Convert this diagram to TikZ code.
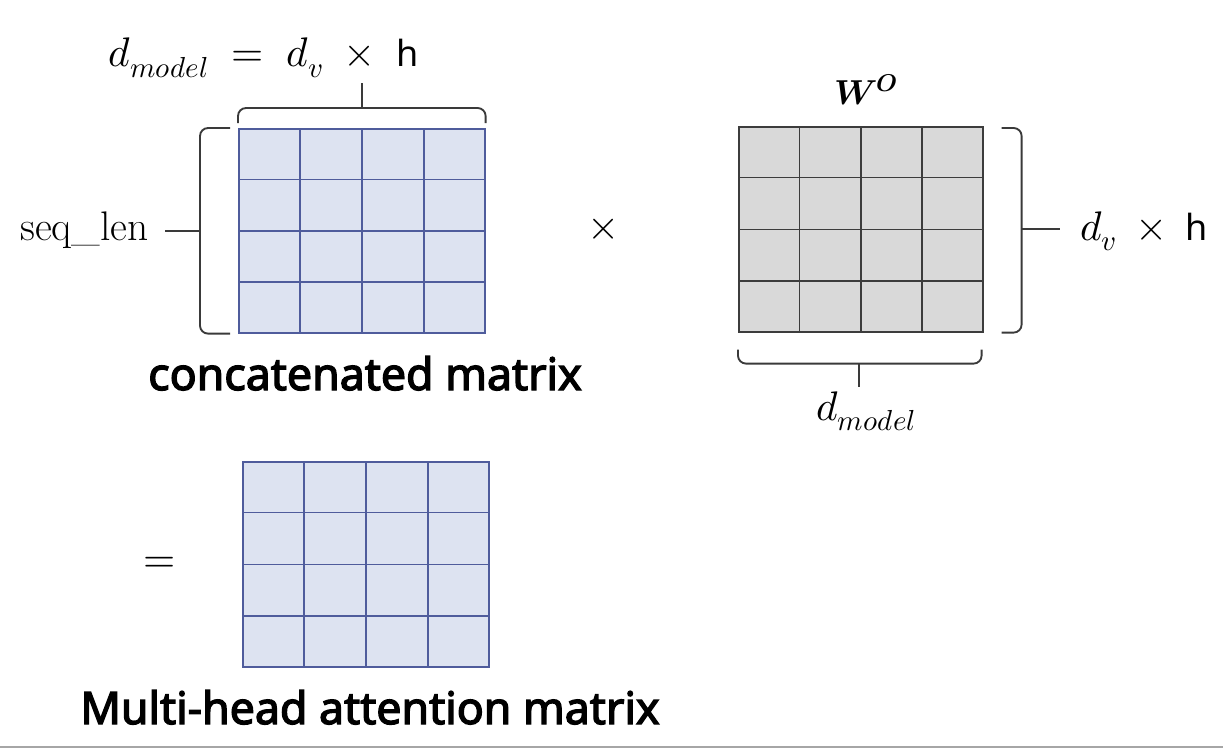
\documentclass[tikz,border=0pt]{standalone}
\usepackage{fontspec}
\usepackage{unicode-math}
\setmathfont{Latin Modern Math}
\usetikzlibrary{calc}
\newfontfamily\lblfont{Noto Sans}
\newfontfamily\boldfont{Noto Sans}[AutoFakeBold=3]
\definecolor{bluefill}{HTML}{DDE3F1}
\definecolor{blueline}{HTML}{4F5C9C}
\definecolor{grayfill}{HTML}{D9D9D9}
\definecolor{grayline}{HTML}{3C3C3C}
\definecolor{bracecol}{HTML}{3A3A3A}
\tikzset{
  bluemat/.style={draw=blueline, fill=bluefill, line width=1.2pt, anchor=north west, inner sep=0pt},
  graymat/.style={draw=grayline, fill=grayfill, line width=1.2pt, anchor=north west, inner sep=0pt},
  bluegrid/.style={draw=blueline, line width=1.2pt},
  graygrid/.style={draw=grayline, line width=1.2pt},
  bracepath/.style={draw=bracecol, line width=1.4pt, rounded corners=6pt},
  ticklink/.style={draw=bracecol, line width=1.4pt},
  mathlbl/.style={inner sep=0pt, font=\fontsize{31}{37}\selectfont},
  boldlbl/.style={inner sep=0pt, font=\boldfont\bfseries\fontsize{33.5}{40}\selectfont},
}
\newcommand{\sansh}{\text{\lblfont\fontsize{27}{32}\selectfont h}}
\begin{document}
\begin{tikzpicture}[x=0.75pt,y=-0.75pt]
\useasboundingbox (0,0) rectangle (1223,749);
% matrices
\node[bluemat, minimum width=184.5pt, minimum height=153pt] (cm) at (238,128) {};
\node[graymat, minimum width=183pt, minimum height=153.75pt] (wo) at (738,126) {};
\node[bluemat, minimum width=184.5pt, minimum height=153.75pt] (mh) at (242,461) {};
\foreach \i in {1,2,3}{
  \draw[bluegrid] ($(cm.north west)!\i/4!(cm.north east)$) -- ($(cm.south west)!\i/4!(cm.south east)$);
  \draw[bluegrid] ($(cm.north west)!\i/4!(cm.south west)$) -- ($(cm.north east)!\i/4!(cm.south east)$);
  \draw[graygrid] ($(wo.north west)!\i/4!(wo.north east)$) -- ($(wo.south west)!\i/4!(wo.south east)$);
  \draw[graygrid] ($(wo.north west)!\i/4!(wo.south west)$) -- ($(wo.north east)!\i/4!(wo.south east)$);
  \draw[bluegrid] ($(mh.north west)!\i/4!(mh.north east)$) -- ($(mh.south west)!\i/4!(mh.south east)$);
  \draw[bluegrid] ($(mh.north west)!\i/4!(mh.south west)$) -- ($(mh.north east)!\i/4!(mh.south east)$);
}
% labels
\node[mathlbl, anchor=base] (top) at (264,67) {$d_{model} \;=\; d_v \;\times\; \sansh$};
\node[mathlbl, anchor=base, font=\fontsize{26}{31}\selectfont] (wlab) at (866,104) {$\symbfit{W}^{\symbfit{O}}$};
\node[mathlbl, anchor=base east] (seq) at (149,240) {seq\_len};
\node[mathlbl] (times) at (604,229) {$\times$};
\node[mathlbl, anchor=base west] (dvh) at (1080,240) {$d_v \:\times\: \sansh$};
\node[mathlbl, anchor=base] (dm) at (866,420) {$d_{model}$};
\node[boldlbl, anchor=base] (cml) at (365,390) {concatenated matrix};
\node[mathlbl] (eq) at (160,565) {$=$};
\node[boldlbl, anchor=base] (mhl) at (370,724) {Multi-head attention matrix};
% top brace
\coordinate (tb) at ($(cm.north)+(0,-20)$);
\draw[bracepath] ($(cm.north west)+(0,-5)$) |- (tb) -| ($(cm.north east)+(0,-5)$);
\draw[ticklink] (tb) -- ($(cm.north)+(0,-45)$);
% left brace
\coordinate (lb) at ($(cm.west)+(-38,0)$);
\draw[bracepath] ($(cm.north west)+(-8,0)$) -| (lb) |- ($(cm.south west)+(-8,0)$);
\draw[ticklink] (lb) -- ($(cm.west)+(-73,0)$);
% right brace
\coordinate (rb) at ($(wo.east)+(38,0)$);
\draw[bracepath] ($(wo.north east)+(18,2)$) -| (rb) |- ($(wo.south east)+(18,0)$);
\draw[ticklink] (rb) -- ($(wo.east)+(76,0)$);
% bottom brace
\coordinate (bb) at ($(wo.south)+(-2,31)$);
\draw[bracepath] ($(wo.south west)+(0,17)$) |- (bb) -| ($(wo.south east)+(-2,17)$);
\draw[ticklink] (bb) -- ($(wo.south)+(-2,54)$);
% bottom frame line
\draw[draw=gray!70, line width=1.5pt] (0,746.5) -- (1223,746.5);
\end{tikzpicture}
\end{document}
